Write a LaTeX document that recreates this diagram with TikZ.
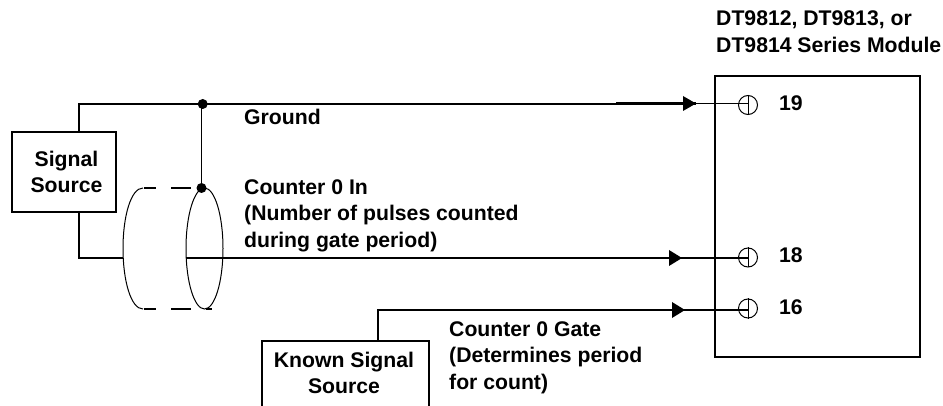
\documentclass[tikz,border=0pt]{standalone}
\usepackage{fontspec}
\setmainfont{Liberation Sans}
\tikzset{
  wire/.style={line width=1.9pt,line join=miter},
  thinwire/.style={line width=1.3pt},
  shell/.style={line width=1pt},
  shelldash/.style={line width=1.5pt,dash pattern=on 12pt off 15pt on 20pt off 15pt},
  box/.style={draw,line width=1.9pt,inner sep=0pt,anchor=north west},
  lbl/.style={font=\fontsize{21.2}{26.5}\selectfont\bfseries,inner sep=0pt,align=left,anchor=north west},
  ctr/.style={font=\fontsize{21.2}{26}\selectfont\bfseries,inner sep=0pt,align=center,anchor=north},
  dot/.style={circle,fill=black,inner sep=0pt,minimum size=10pt},
  term/.style={circle,draw,line width=1pt,inner sep=0pt,minimum size=19pt},
  tip/.style={fill=black,draw=none}
}
\begin{document}
\begin{tikzpicture}[x=1pt,y=-1pt]
\useasboundingbox (0,0) rectangle (943,406);
% boxes
\node[box,minimum width=104pt,minimum height=80pt] (sig) at (11,131) {};
\node[ctr] (sigt) at (66.5,150.7) {Signal\\Source};
\node[box,minimum width=205pt,minimum height=281pt] (mod) at (714,75) {};
\begin{scope}
\clip (0,0) rectangle (943,406);
\node[box,minimum width=167pt,minimum height=90pt] (known) at (261,340) {};
\end{scope}
\node[ctr] (knownt) at (344,351.7) {Known Signal\\Source};
% coordinates
\coordinate (sa) at (79,131);
\coordinate (sb) at (79,104);
\coordinate (sc) at (79,211);
\coordinate (sd) at (79,258);
\coordinate (ka) at (378,340);
\coordinate (kb) at (378,310);
\node[dot] (j1) at (202.7,104) {};
\node[dot] (j2) at (201.5,188) {};
\node[term] (t19) at (748,105) {};
\node[term] (t18) at (748,257.5) {};
\node[term] (t16) at (748,308.5) {};
\coordinate (a19) at (696,103.5);
\coordinate (a18) at (682,258);
\coordinate (a16) at (685,310);
% cable shell
\draw[shell] (204.5,248.5) ellipse [x radius=18.5pt,y radius=60.5pt];
\draw[shell] (143,188) .. controls (131,188) and (123,216) .. (123,248.5) .. controls (123,281) and (131,309) .. (143,309);
\draw[shelldash] (144,188) -- (j2);
\draw[shelldash] (144,309) -- (212,309);
% wires
\draw[wire] (sa) -- (sb) -- (j1.center) -- (616,104);
\draw[wire] (j2.center |- j1.center) -- (j2.center);
\draw[line width=2.3pt] (616,103.5) -- (a19);
\draw[thinwire] (a19) -- (748,103.5);
\draw[wire] (sc) -- (sd) -- (123,258);
\draw[thinwire] (186,258) -- (223,258);
\draw[thinwire] (223,258) -- (a18) -- (748,258);
\draw[wire] (ka) -- (kb) -- (a16);
\draw[thinwire] (a16) -- (748,310);
% terminal stems
\draw[shell] (t19.north) -- (t19.south);
\draw[shell] (t18.north) -- (t18.south);
\draw[shell] (t16.north) -- (t16.south);
% arrowheads
\fill[tip] (a19) -- ++(-13,-7.5) -- ++(0,15) -- cycle;
\fill[tip] (a18) -- ++(-13,-8) -- ++(0,16) -- cycle;
\fill[tip] (a16) -- ++(-13,-8) -- ++(0,16) -- cycle;
% labels
\node[lbl] (l1) at (716,10.7) {DT9812, DT9813, or\\DT9814 Series Module};
\node[lbl] (l2) at (244,109.2) {Ground};
\node[lbl] (l3) at (244,179.2) {Counter 0 In\\(Number of pulses counted\\during gate period)};
\node[lbl] (l4) at (449,321.4) {Counter 0 Gate\\(Determines period\\for count)};
\node[lbl] (n19) at (779,95.7) {19};
\node[lbl] (n18) at (779,247.7) {18};
\node[lbl] (n16) at (779,299) {16};
\end{tikzpicture}
\end{document}
